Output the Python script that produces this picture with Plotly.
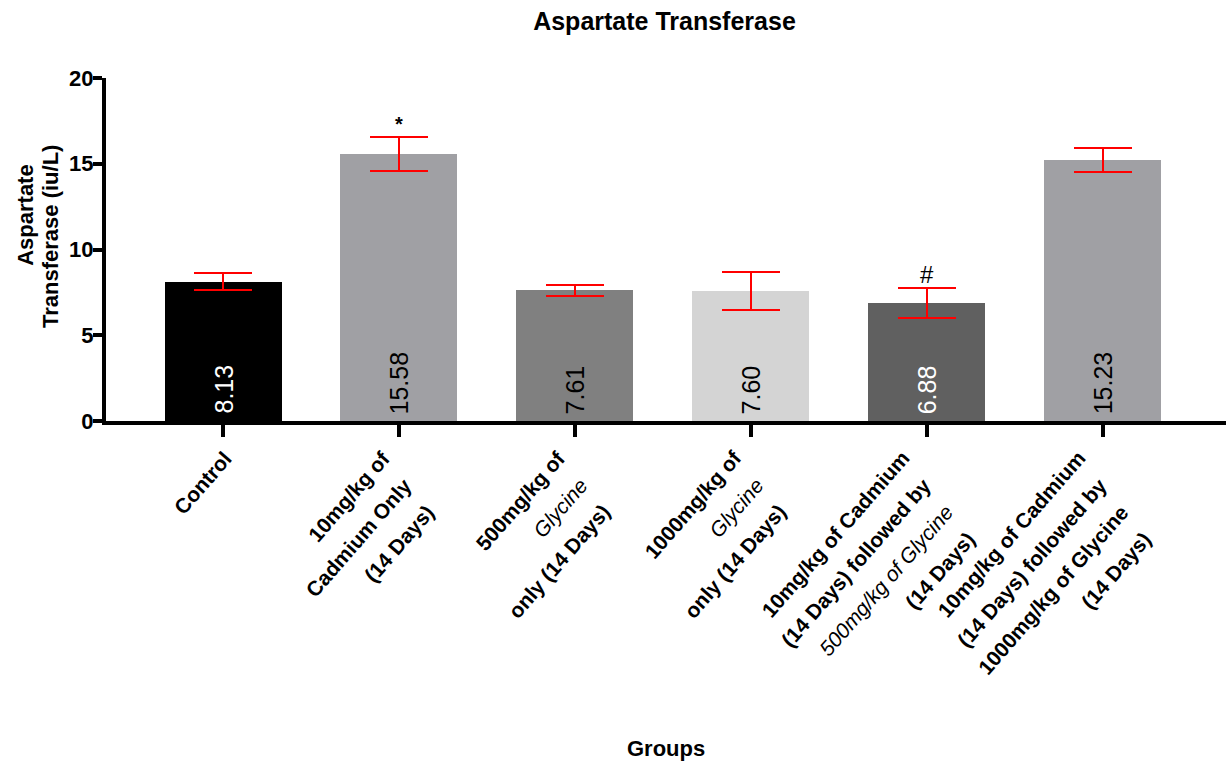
import plotly.graph_objects as go

# Aspartate transferase by treatment group (mean ± SEM)
groups = [
    "<b>Control</b>",
    "<b>10mg/kg of</b><br><b>Cadmium Only</b><br><b>(14 Days)</b>",
    "<b>500mg/kg of</b><br><i>Glycine</i><br><b>only (14 Days)</b>",
    "<b>1000mg/kg of</b><br><i>Glycine</i><br><b>only (14 Days)</b>",
    "<b>10mg/kg of Cadmium</b><br><b>(14 Days) followed by</b><br><i>500mg/kg of Glycine</i><br><b>(14 Days)</b>",
    "<b>10mg/kg of Cadmium</b><br><b>(14 Days) followed by</b><br><b>1000mg/kg of Glycine</b><br><b>(14 Days)</b>",
]
means = [8.13, 15.58, 7.61, 7.60, 6.88, 15.23]
sem = [0.48, 1.00, 0.34, 1.10, 0.86, 0.70]
significance = ["", "*", "", "", "#", ""]

bar_colors = ["#000000", "#a0a0a4", "#808080", "#d4d4d4", "#606060", "#a0a0a4"]
label_colors = ["#ffffff", "#000000", "#000000", "#000000", "#ffffff", "#000000"]

FONT = "Liberation Sans, Arial, sans-serif"

xs = list(range(len(means)))

fig = go.Figure()
fig.add_trace(go.Bar(
    x=xs,
    y=means,
    width=0.665,
    marker=dict(color=bar_colors, line=dict(width=0)),
    error_y=dict(type="data", array=sem, visible=True, color="#ff0000",
                 thickness=2, width=29),
    hoverinfo="skip",
))

annotations = []

# mean values written vertically at the base of each bar
for x, m, c in zip(xs, means, label_colors):
    annotations.append(dict(
        x=x, y=0, xref="x", yref="y", text=f"{m:.2f}", showarrow=False,
        textangle=-90, xanchor="center", yanchor="bottom", yshift=5,
        font=dict(family=FONT, size=25, color=c),
    ))

# significance markers above the error bars
for x, m, e, s in zip(xs, means, sem, significance):
    if s:
        annotations.append(dict(
            x=x, y=m + e, xref="x", yref="y", text=s, showarrow=False,
            yanchor="bottom", yshift=-2 if s == "#" else 0,
            font=dict(family=FONT, size=24 if s == "#" else 20, color="#000000",
                      weight="normal" if s == "#" else "bold"),
        ))

# rotated category labels: one annotation per line, stacked down-right
STEP_X, STEP_Y = 22, 27
for x, g in zip(xs, groups):
    lines = g.split("<br>")
    n = len(lines)
    for k, line in enumerate(lines):
        annotations.append(dict(
            x=x, y=-0.066, xref="x", yref="paper", text=line, showarrow=False,
            textangle=-49, xanchor="right", yanchor="top",
            xshift=16 - 9 * (n - 1) + k * STEP_X,
            yshift=-k * STEP_Y,
            font=dict(family=FONT, size=21, color="#000000"),
        ))

# axis titles
annotations.append(dict(
    x=-0.0725, y=(421 - 215) / 343, xref="paper", yref="paper",
    text="<b>Aspartate</b>", showarrow=False,
    textangle=-90, xanchor="center", yanchor="middle",
    font=dict(family=FONT, size=22, color="#000000"),
))
annotations.append(dict(
    x=-0.05, y=(421 - 237) / 343, xref="paper", yref="paper",
    text="<b>Transferase (iu/L)</b>", showarrow=False,
    textangle=-90, xanchor="center", yanchor="middle",
    font=dict(family=FONT, size=22, color="#000000"),
))
annotations.append(dict(
    x=0.5, y=-0.955, xref="paper", yref="paper",
    text="<b>Groups</b>", showarrow=False,
    xanchor="center", yanchor="middle",
    font=dict(family=FONT, size=22, color="#000000"),
))

fig.update_layout(
    width=1226, height=769,
    margin=dict(l=106, r=0, t=78, b=348),
    paper_bgcolor="#ffffff", plot_bgcolor="#ffffff",
    showlegend=False,
    bargap=0,
    title=dict(text="<b>Aspartate Transferase</b>", x=0.542, xanchor="center",
               y=0.972, yanchor="middle",
               font=dict(family=FONT, size=25, color="#000000")),
    xaxis=dict(
        range=[-0.665, 5.70], tickmode="array", tickvals=xs, ticktext=[""] * len(xs),
        showline=True, linecolor="#000000", linewidth=4,
        ticks="outside", ticklen=12, tickwidth=4, tickcolor="#000000",
        showgrid=False, zeroline=False, fixedrange=True,
    ),
    yaxis=dict(
        range=[0, 20], tickvals=[0, 5, 10, 15, 20],
        showline=True, linecolor="#000000", linewidth=4,
        ticks="outside", ticklen=9, tickwidth=4, tickcolor="#000000",
        ticklabelstandoff=-5,
        tickfont=dict(family=FONT, size=22, color="#000000", weight="bold"),
        showgrid=False, zeroline=False, fixedrange=True,
    ),
    annotations=annotations,
)

fig.write_html("out.html")
